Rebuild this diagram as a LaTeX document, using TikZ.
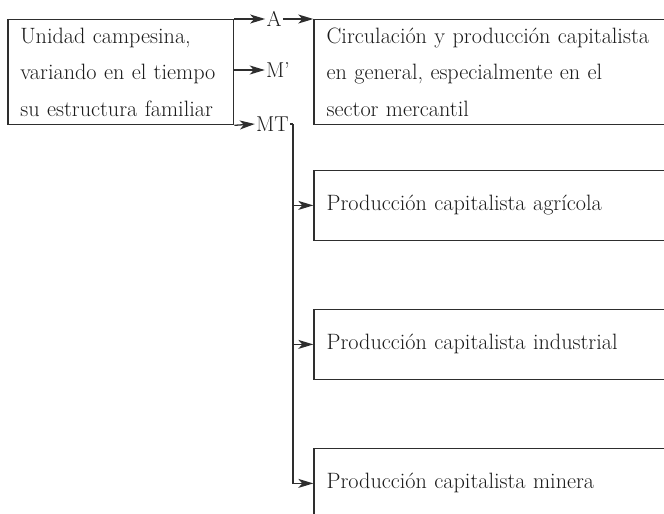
\documentclass[tikz,border=0pt]{standalone}
\usetikzlibrary{arrows.meta}
\definecolor{ln}{HTML}{2E2E2E}
\definecolor{tx}{HTML}{1A1A1A}
\begin{document}
\begin{tikzpicture}[x=1pt,y=-1pt,
  every node/.style={font=\fontsize{21.5}{36.5}\selectfont, text=tx},
  box/.style={draw=ln, line width=1.3pt, rectangle, anchor=north west, align=left, inner ysep=3pt, font=\fontsize{22.2}{36.5}\selectfont},
  lbox/.style={box, text width=201pt, inner xsep=12.4pt},
  rbox/.style={box, text width=370pt, inner xsep=12.7pt},
  lab/.style={inner sep=1.2pt},
  conn/.style={draw=ln, line width=1.3pt, -{Stealth[length=15pt,width=9pt,inset=4pt]}},
  plain/.style={draw=ln, line width=1.3pt}]
\useasboundingbox (0,0) rectangle (664,514);
\clip (0,0) rectangle (664,514);
\node[lbox, minimum height=105pt] (L) at (7.3,19) {Unidad campesina,\\variando en el tiempo\\su estructura familiar};
\node[rbox, minimum height=105pt] (C) at (313.3,19) {Circulación y producción capitalista\\en general, especialmente en el\\sector mercantil};
\node[rbox, minimum height=69.5pt] (P1) at (313.3,170) {Producción capitalista agrícola};
\node[rbox, minimum height=69.5pt] (P2) at (313.3,309) {Producción capitalista industrial};
\node[rbox, minimum height=69.5pt] (P3) at (313.3,448) {Producción capitalista minera};
\node[lab] (A) at (274,19) {A};
\node[lab] (M) at (278,70) {M'};
\node[lab] (MT) at (272.5,124) {MT};
\coordinate (j) at (293,124);
\draw[conn] (L.north east) -- (A.west);
\draw[conn] (A.east) -- (C.north west);
\draw[conn] (L.east |- M.west) -- (M.west);
\draw[conn] (L.south east) -- (MT.west);
\draw[plain] (MT.east) -- (j);
\draw[conn] (j) |- (P1.west);
\draw[conn] (j) |- (P2.west);
\draw[conn] (j) |- (P3.west);
\end{tikzpicture}
\end{document}
